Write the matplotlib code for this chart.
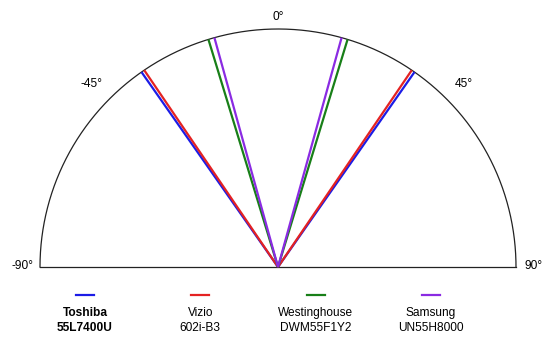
import numpy as np
import matplotlib.pyplot as plt

# viewing angle (degrees from centre, each side)
models = ['Toshiba', 'Vizio', 'Westinghouse', 'Samsung']
model_codes = ['55L7400U', '602i-B3', 'DWM55F1Y2', 'UN55H8000']
half_angles = [35.0, 34.2, 17.0, 15.5]
colors = ['#1c1ce6', '#e42222', '#187f18', '#8a2be2']

tick_angles = [-90, -45, 0, 45, 90]
tick_labels = ['-90°', '-45°', '0°', '45°', '90°']

plt.rcParams['font.family'] = ['Liberation Sans', 'DejaVu Sans']

fig = plt.figure(figsize=(5.52, 3.43), dpi=100)
ax = fig.add_axes([0, 0, 1, 1])
ax.set_xlim(-278 / 238, (552 - 278) / 238)
ax.set_ylim(-(343 - 267) / 238, 267 / 238)
ax.set_aspect('equal')
ax.axis('off')

# half circle outline
t = np.linspace(-90, 90, 400)
ax.plot(np.sin(np.radians(t)), np.cos(np.radians(t)), color='#222222', lw=0.9)
ax.plot([-1, 1], [0, 0], color='#222222', lw=0.9)

# angle labels
for a, lab in zip(tick_angles, tick_labels):
    r = 1.045 if a == 0 else (1.08 if abs(a) == 45 else 1.075)
    x, y = r * np.sin(np.radians(a)), r * np.cos(np.radians(a))
    if abs(a) == 45:
        x += 0.018 * np.sign(a)
    ax.text(x, y + 0.006, lab, ha='center', va='center', fontsize=8.6)

# viewing angle lines
for ang, c in zip(half_angles, colors):
    for s in (-1, 1):
        a = np.radians(s * ang)
        ax.plot([0, np.sin(a)], [0, np.cos(a)], color=c, lw=1.6,
                solid_capstyle='butt')

# legend underneath
for i, (m, code, c) in enumerate(zip(models, model_codes, colors)):
    xc = (85 + 115.3 * i) / 552
    ax.plot([xc - 9 / 552, xc + 9 / 552], [1 - 294.5 / 343] * 2, color=c,
            lw=1.6, transform=ax.transAxes)
    w = 'bold' if i == 0 else 'normal'
    ax.text(xc, 1 - 313 / 343, m, ha='center', va='center', fontsize=8.6,
            fontweight=w, transform=ax.transAxes)
    ax.text(xc, 1 - 328 / 343, code, ha='center', va='center', fontsize=8.6,
            fontweight=w, transform=ax.transAxes)

fig.savefig('out.png', dpi=100)
